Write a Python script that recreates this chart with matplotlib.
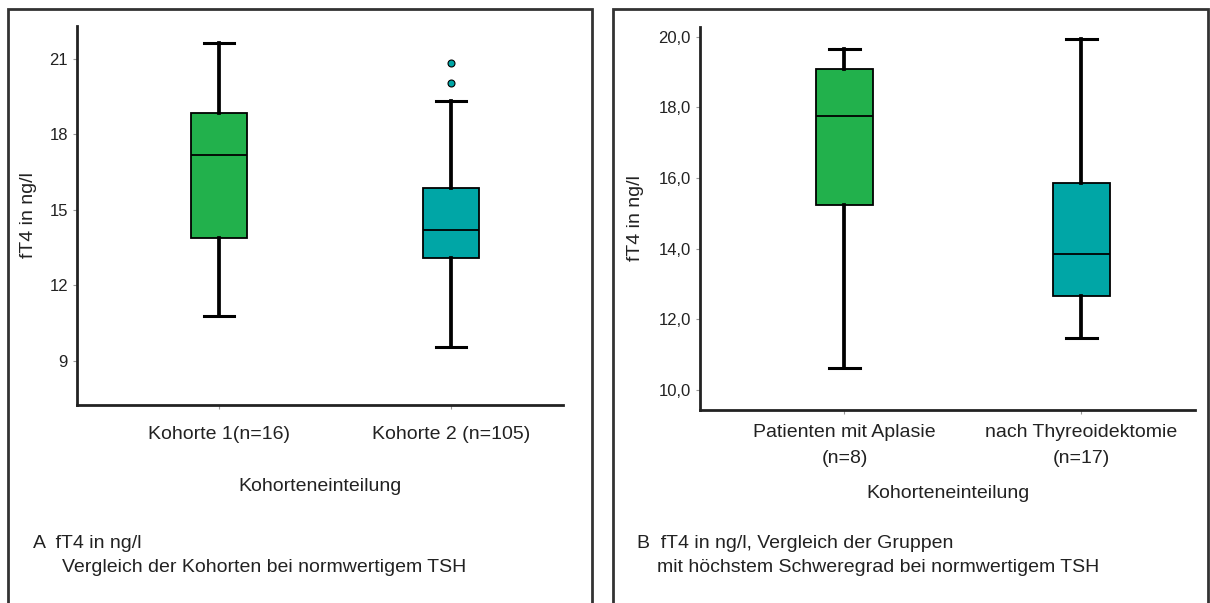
import matplotlib.pyplot as plt
from matplotlib.patches import Rectangle

plt.rcParams['font.family'] = ['Liberation Sans', 'DejaVu Sans']

# panel A: cohorts with normal TSH (whisker low, Q1, median, Q3, whisker high)
cohort_labels = ['Kohorte 1(n=16)', 'Kohorte 2 (n=105)']
cohort_stats = [
    [10.8, 13.88, 17.16, 18.84, 21.64],
    [9.56, 13.08, 14.2, 15.88, 19.31],
]
cohort_fliers = [[], [20.04, 20.84]]
cohort_ticks = [9, 12, 15, 18, 21]

# panel B: most severe groups with normal TSH
group_labels = ['Patienten mit Aplasie\n(n=8)', 'nach Thyreoidektomie\n(n=17)']
group_stats = [
    [10.62, 15.24, 17.75, 19.08, 19.66],
    [11.46, 12.65, 13.86, 15.86, 19.94],
]
group_fliers = [[], []]
group_ticks = [10, 12, 14, 16, 18, 20]

box_colors = ['#22B14C', '#00A6A6']
txt = '#222222'
big = 14

W, H = 1210, 603
fig = plt.figure(figsize=(W / 100, H / 100), dpi=100)


def px_axes(x0, y0, x1, y1):
    # axes from pixel box (top-left origin)
    return fig.add_axes([x0 / W, 1 - y1 / H, (x1 - x0) / W, (y1 - y0) / H])


def draw_box(ax, stats, fliers, labels, ticks, ylim, fmt):
    bxp = []
    for s, fl, lab in zip(stats, fliers, labels):
        bxp.append(dict(whislo=s[0], q1=s[1], med=s[2], q3=s[3], whishi=s[4],
                        fliers=fl, label=lab))
    res = ax.bxp(bxp, positions=[1, 2], widths=0.24, patch_artist=True,
                 capwidths=0.13,
                 boxprops=dict(edgecolor='black', linewidth=1.3),
                 medianprops=dict(color='black', linewidth=1.3),
                 whiskerprops=dict(color='black', linewidth=2.7),
                 capprops=dict(color='black', linewidth=2.2),
                 flierprops=dict(marker='o', markersize=5, markeredgecolor='black',
                                 markeredgewidth=0.8))
    for patch, c in zip(res['boxes'], box_colors):
        patch.set_facecolor(c)
    for fl, c in zip(res['fliers'], box_colors):
        fl.set_markerfacecolor(c)
    ax.set_xlim(0.39, 2.48)
    ax.set_ylim(*ylim)
    ax.set_yticks(ticks)
    ax.set_yticklabels([fmt(t) for t in ticks])
    for side in ['top', 'right']:
        ax.spines[side].set_visible(False)
    for side in ['left', 'bottom']:
        ax.spines[side].set_linewidth(2)
        ax.spines[side].set_color(txt)
    ax.tick_params(axis='both', length=3, width=0.8, color='#999999',
                   labelsize=12, labelcolor=txt)
    ax.tick_params(axis='x', labelsize=big)
    ax.set_ylabel('fT4 in ng/l', fontsize=big, color=txt)


axA = px_axes(77, 26, 563, 405)
draw_box(axA, cohort_stats, cohort_fliers, cohort_labels, cohort_ticks,
         (7.25, 22.3), lambda t: str(t))
axA.tick_params(axis='x', pad=12)
axA.yaxis.set_label_coords(-40 / 486, 0.5)
axA.set_xlabel('Kohorteneinteilung', fontsize=big, color=txt, labelpad=25)

axB = px_axes(700, 27, 1195, 410)
draw_box(axB, group_stats, group_fliers, group_labels, group_ticks,
         (9.43, 20.28), lambda t: f'{t},0')
axB.tick_params(axis='x', pad=7)
for lab in axB.get_xticklabels():
    lab.set_linespacing(1.7)
axB.yaxis.set_label_coords(-56 / 495, 0.5)
axB.set_xlabel('Kohorteneinteilung', fontsize=big, color=txt, labelpad=13)

# panel frames, open at the bottom
for x0, x1 in [(8, 592), (613, 1208)]:
    fig.add_artist(Rectangle((x0 / W, -0.01), (x1 - x0) / W, 1 - 9 / H + 0.01,
                             transform=fig.transFigure, fill=False,
                             edgecolor='#333333', linewidth=2))

# captions
fig.text(33 / W, 1 - 543 / H, 'A  fT4 in ng/l', fontsize=big, color=txt,
         va='center')
fig.text(62 / W, 1 - 568 / H, 'Vergleich der Kohorten bei normwertigem TSH',
         fontsize=big, color=txt, va='center')
fig.text(637 / W, 1 - 543 / H, 'B  fT4 in ng/l, Vergleich der Gruppen',
         fontsize=big, color=txt, va='center')
fig.text(657 / W, 1 - 568 / H, 'mit höchstem Schweregrad bei normwertigem TSH',
         fontsize=big, color=txt, va='center')

fig.savefig('out.png', dpi=100)
